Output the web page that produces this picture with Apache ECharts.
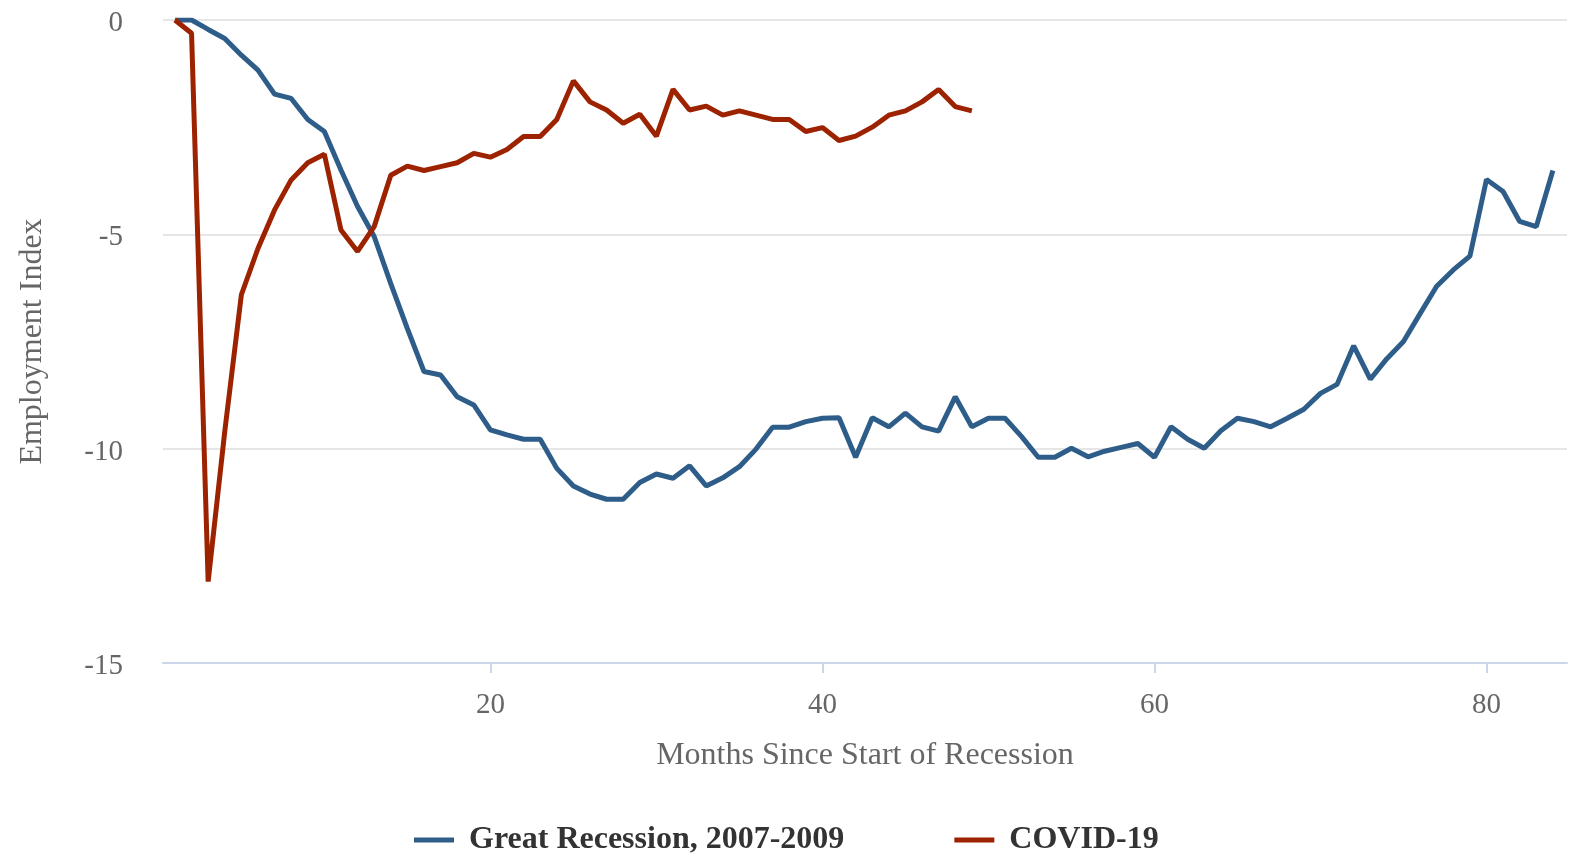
<!DOCTYPE html>
<html>
<head>
<meta charset="utf-8">
<script src="https://cdn.jsdelivr.net/npm/echarts@6/dist/echarts.min.js"></script>
<style>
html,body{margin:0;padding:0;background:#fff;}
#chart{width:1575px;height:858px;}
</style>
</head>
<body>
<div id="chart"></div>
<script>
const months = [1,2,3,4,5,6,7,8,9,10,11,12,13,14,15,16,17,18,19,20,21,22,23,24,25,26,27,28,29,30,31,32,33,34,35,36,37,38,39,40,41,42,43,44,45,46,47,48,49,50,51,52,53,54,55,56,57,58,59,60,61,62,63,64,65,66,67,68,69,70,71,72,73,74,75,76,77,78,79,80,81,82,83,84];

const greatRecession = [0,0,-0.22,-0.43,-0.82,-1.17,-1.73,-1.83,-2.32,-2.6,
  -3.5,-4.35,-5.05,-6.15,-7.2,-8.2,-8.28,-8.79,-8.98,-9.56,
  -9.68,-9.78,-9.78,-10.46,-10.87,-11.06,-11.18,-11.18,-10.79,-10.59,
  -10.69,-10.4,-10.87,-10.68,-10.42,-10.01,-9.5,-9.5,-9.37,-9.29,
  -9.28,-10.2,-9.28,-9.49,-9.17,-9.49,-9.59,-8.79,-9.49,-9.29,
  -9.29,-9.72,-10.2,-10.2,-9.99,-10.19,-10.06,-9.97,-9.88,-10.2,
  -9.49,-9.78,-9.99,-9.58,-9.29,-9.37,-9.49,-9.29,-9.08,-8.71,
  -8.5,-7.6,-8.38,-7.9,-7.5,-6.85,-6.21,-5.83,-5.51,-3.72,
  -4.0,-4.7,-4.82,-3.51];

const covid19 = [0,-0.31,-13.1,-9.6,-6.41,-5.33,-4.43,-3.73,-3.33,-3.13,
  -4.9,-5.4,-4.82,-3.62,-3.41,-3.51,-3.42,-3.33,-3.11,-3.2,
  -3.02,-2.72,-2.72,-2.32,-1.42,-1.91,-2.1,-2.41,-2.2,-2.71,
  -1.62,-2.1,-2.01,-2.22,-2.12,-2.22,-2.32,-2.32,-2.6,-2.51,
  -2.81,-2.71,-2.5,-2.22,-2.12,-1.91,-1.62,-2.02,-2.12];

const seriesNames = ['Great Recession, 2007-2009', 'COVID-19'];
const xTickValues = [20, 40, 60, 80];

const FONT = "'Liberation Serif', 'Times New Roman', serif";

function pairs(vals) {
  return vals.map((v, i) => [months[i], v]);
}

const chart = echarts.init(document.getElementById('chart'), null, {renderer: 'canvas'});
chart.setOption({
  animation: false,
  backgroundColor: '#ffffff',
  grid: {left: 163, right: 8, top: 20, bottom: 195, containLabel: false},
  legend: {
    top: 819,
    left: 409,
    itemGap: 110,
    itemWidth: 40,
    itemHeight: 5,
    icon: 'rect',
    textStyle: {fontFamily: FONT, fontSize: 32, fontWeight: 'bold', color: '#333333', padding: [0, 0, 0, 10]},
    data: seriesNames
  },
  xAxis: {
    type: 'value',
    min: 0.28,
    max: 84.85,
    name: 'Months Since Start of Recession',
    nameLocation: 'middle',
    nameGap: 77,
    nameTextStyle: {fontFamily: FONT, fontSize: 32, color: '#666666'},
    axisLine: {show: true, onZero: false, lineStyle: {color: '#ccd6eb', width: 2}},
    axisTick: {show: true, length: 10, lineStyle: {color: '#ccd6eb', width: 2}, customValues: xTickValues},
    axisLabel: {fontFamily: FONT, fontSize: 29, color: '#666666', margin: 28, customValues: xTickValues},
    splitLine: {show: false}
  },
  yAxis: {
    type: 'value',
    min: -15,
    max: 0,
    interval: 5,
    name: 'Employment Index',
    nameLocation: 'middle',
    nameGap: 114,
    nameTextStyle: {fontFamily: FONT, fontSize: 32, color: '#666666'},
    axisLine: {show: false},
    axisTick: {show: false},
    axisLabel: {
      fontFamily: FONT, fontSize: 29, color: '#666666', margin: 40,
      formatter: '{v|{value}}',
      rich: {v: {fontFamily: FONT, fontSize: 29, color: '#666666', padding: [7, 0, 0, 0]}}
    },
    splitLine: {show: true, lineStyle: {color: '#e6e6e6', width: 2}}
  },
  series: [
    {
      name: seriesNames[0],
      type: 'line',
      data: pairs(greatRecession),
      showSymbol: false,
      symbol: 'none',
      lineStyle: {color: '#2e5d8a', width: 5},
      itemStyle: {color: '#2e5d8a'},
      z: 2
    },
    {
      name: seriesNames[1],
      type: 'line',
      data: pairs(covid19),
      showSymbol: false,
      symbol: 'none',
      lineStyle: {color: '#9c2200', width: 5},
      itemStyle: {color: '#9c2200'},
      z: 3
    }
  ]
});
</script>
</body>
</html>
